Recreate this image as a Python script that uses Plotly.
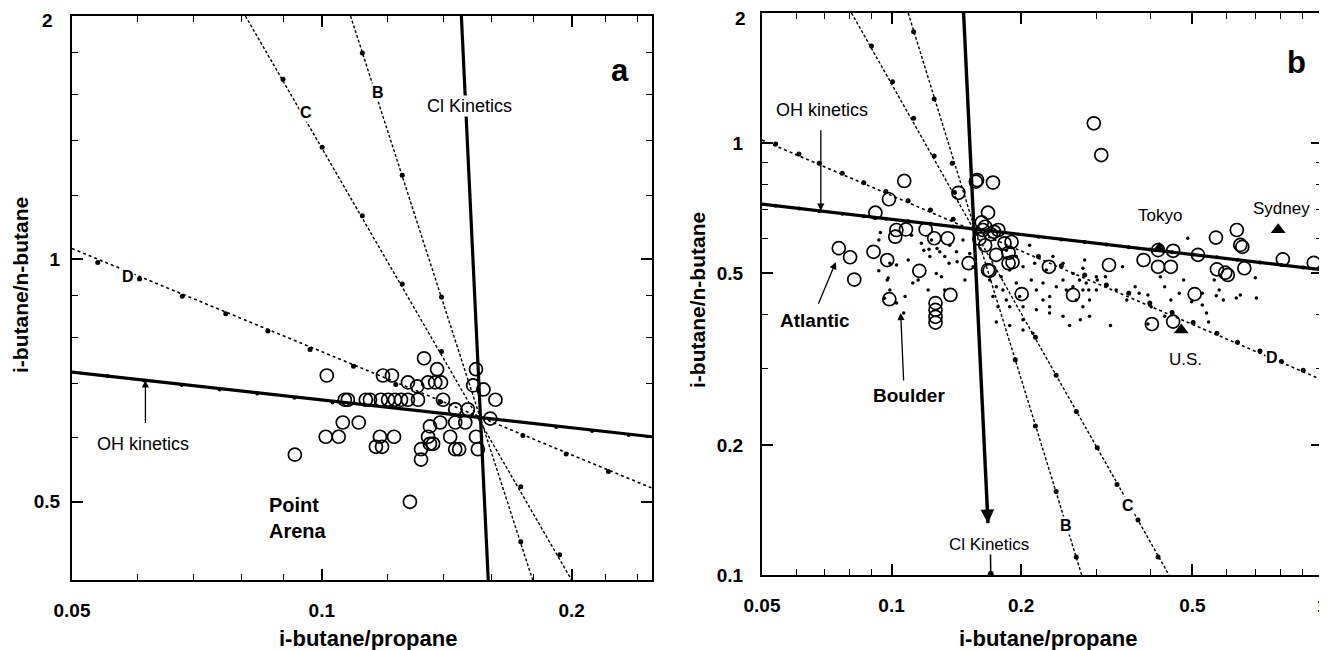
import numpy as np
import plotly.graph_objects as go

# page body has an 8 px margin: the figure is drawn 8 px in from the top-left corner
OFF = 8
W, H = 1327 - OFF, 650 - OFF
L = np.log10

# ---------------- Panel a data ----------------
pa_circ_x = [0.1014, 0.1328, 0.1377, 0.1185, 0.1215, 0.1270, 0.1303, 0.1343, 0.1370, 0.1392, 0.1534, 0.1522, 0.1566, 0.1619,
             0.1066, 0.1075, 0.1130, 0.1143, 0.1178, 0.1202, 0.1225, 0.1246, 0.1270, 0.1306,
             0.1400, 0.1448, 0.1500, 0.1350, 0.1448, 0.1489, 0.1389, 0.1596, 0.1060, 0.1108, 0.1011, 0.1048, 0.1175, 0.1222,
             0.1162, 0.1182, 0.1343, 0.1362, 0.1350, 0.1428, 0.1448, 0.1464, 0.1534, 0.1542, 0.1317, 0.1317, 0.0928, 0.1277]
pa_circ_y = [0.717, 0.753, 0.730, 0.717, 0.717, 0.703, 0.695, 0.703, 0.703, 0.703, 0.730, 0.697, 0.689, 0.669,
             0.669, 0.669, 0.669, 0.669, 0.669, 0.669, 0.669, 0.669, 0.669, 0.669,
             0.669, 0.651, 0.651, 0.620, 0.627, 0.627, 0.627, 0.634, 0.627, 0.627, 0.602, 0.602, 0.602, 0.602,
             0.585, 0.585, 0.602, 0.590, 0.590, 0.602, 0.581, 0.581, 0.602, 0.581, 0.581, 0.564, 0.572, 0.500]

pa_oh_x = [0.05, 0.25]
pa_oh_y = [0.724, 0.602]
pa_oh_dot_x = [0.0552, 0.0611, 0.0678, 0.0753, 0.0836, 0.0927, 0.1030, 0.1917, 0.2117, 0.2344]
pa_oh_dot_y = [0.716, 0.707, 0.698, 0.689, 0.681, 0.673, 0.664, 0.619, 0.612, 0.605]

pa_cl_x = [0.1473, 0.1587]
pa_cl_y = [2.0, 0.4]

pa_b_x = [0.1083, 0.1795]
pa_b_y = [2.0, 0.4]
pa_b_dot_x = [0.1119, 0.1250, 0.1394, 0.1737]
pa_b_dot_y = [1.80, 1.27, 0.897, 0.446]

pa_c_x = [0.0809, 0.2000]
pa_c_y = [2.0, 0.4]
pa_c_dot_x = [0.0898, 0.1001, 0.1119, 0.1250, 0.1394, 0.1737, 0.1935]
pa_c_dot_y = [1.67, 1.375, 1.131, 0.931, 0.768, 0.522, 0.430]

pa_d_x = [0.05, 0.25]
pa_d_y = [1.03, 0.52]
pa_d_dot_x = [0.0537, 0.0603, 0.0679, 0.0766, 0.0861, 0.0968, 0.1092, 0.1228, 0.1390, 0.1747, 0.1970, 0.2215]
pa_d_dot_y = [0.990, 0.944, 0.899, 0.855, 0.814, 0.772, 0.736, 0.699, 0.665, 0.604, 0.573, 0.545]

# ---------------- Panel b data ----------------
pb_circ_x = [0.295, 0.307, 0.107, 0.0986, 0.0917, 0.158, 0.157, 0.172, 0.143, 0.1675,
             0.1026, 0.108, 0.102, 0.120, 0.1256, 0.135, 0.173, 0.183, 0.0754, 0.0801,
             0.0819, 0.0908, 0.0977, 0.116, 0.151, 0.1675, 0.169, 0.175, 0.187, 0.2006,
             0.137, 0.0988, 0.1265, 0.1265, 0.1265, 0.1265, 0.264, 0.232, 0.320, 0.385,
             0.416, 0.451, 0.416, 0.4455, 0.515, 0.567, 0.634, 0.646, 0.653, 0.570,
             0.596, 0.604, 0.660, 0.811, 0.957, 0.506, 0.4025, 0.451,
             0.187, 0.191, 0.177, 0.190, 0.163, 0.165, 0.170, 0.160, 0.165, 0.162]
pb_circ_y = [1.111, 0.938, 0.817, 0.741, 0.690, 0.821, 0.814, 0.810, 0.767, 0.690,
             0.629, 0.631, 0.607, 0.631, 0.602, 0.602, 0.623, 0.586, 0.571, 0.544,
             0.483, 0.560, 0.536, 0.506, 0.527, 0.508, 0.506, 0.551, 0.527, 0.447,
             0.445, 0.435, 0.426, 0.411, 0.396, 0.384, 0.445, 0.517, 0.522, 0.536,
             0.565, 0.563, 0.517, 0.517, 0.551, 0.604, 0.629, 0.581, 0.575, 0.510,
             0.501, 0.495, 0.513, 0.538, 0.528, 0.447, 0.381, 0.386,
             0.557, 0.530, 0.629, 0.590, 0.629, 0.640, 0.615, 0.600, 0.580, 0.655]

pb_dot_x = [0.0942, 0.0991, 0.1027, 0.1093, 0.1113, 0.1173, 0.1188, 0.1222, 0.1238, 0.1227, 0.1275, 0.1294, 0.1329,
            0.1365, 0.1360, 0.1415, 0.1420, 0.1465, 0.1480, 0.1519, 0.1547, 0.1575, 0.1270, 0.1306, 0.1216, 0.1153,
            0.1120, 0.0982, 0.1075, 0.0991, 0.1027, 0.0963, 0.1067, 0.1329,
            0.1690, 0.1751, 0.1814, 0.1848, 0.1720, 0.1767, 0.1881, 0.1949, 0.1984, 0.2020, 0.2020, 0.2112, 0.2170,
            0.2248, 0.2248, 0.2329, 0.2329, 0.2414, 0.2502, 0.2546, 0.2639, 0.2734, 0.2783, 0.2833, 0.2884, 0.2990,
            0.2990, 0.2783, 0.2686, 0.2170, 0.2329, 0.1751, 0.1881, 0.2020, 0.2130, 0.2502, 0.2592, 0.2884, 0.2809,
            0.2641, 0.2288, 0.2150, 0.2020, 0.1881, 0.1798, 0.2093, 0.1848, 0.1949, 0.2371, 0.2502, 0.2783,
            0.314, 0.3325, 0.344, 0.352, 0.368, 0.376, 0.394, 0.401, 0.421, 0.431, 0.4455, 0.466, 0.477, 0.4875,
            0.498, 0.527, 0.527, 0.539, 0.545, 0.577, 0.590, 0.646, 0.394, 0.431, 0.3225, 0.2745, 0.3005, 0.2872,
            0.562, 0.568, 0.632, 0.704, 0.700, 0.0934, 0.0934, 0.0977]
pb_dot_y = [0.621, 0.527, 0.522, 0.536, 0.612, 0.586, 0.565, 0.568, 0.596, 0.546, 0.570, 0.560, 0.546,
            0.580, 0.527, 0.560, 0.531, 0.596, 0.482, 0.555, 0.517, 0.465, 0.499, 0.490, 0.457, 0.482,
            0.474, 0.487, 0.441, 0.457, 0.426, 0.437, 0.404, 0.457,
            0.482, 0.465, 0.457, 0.433, 0.441, 0.418, 0.418, 0.474, 0.441, 0.418, 0.390, 0.482, 0.457,
            0.474, 0.433, 0.441, 0.418, 0.465, 0.482, 0.457, 0.465, 0.482, 0.457, 0.474, 0.433, 0.490,
            0.457, 0.418, 0.433, 0.411, 0.404, 0.385, 0.378, 0.369, 0.363, 0.397, 0.378, 0.397, 0.536,
            0.499, 0.508, 0.527, 0.517, 0.508, 0.490, 0.580, 0.565, 0.546, 0.546, 0.527, 0.513,
            0.490, 0.457, 0.517, 0.433, 0.465, 0.449, 0.445, 0.418, 0.490, 0.465, 0.433, 0.449, 0.482, 0.602,
            0.429, 0.449, 0.422, 0.404, 0.385, 0.457, 0.433, 0.445, 0.381, 0.397, 0.378, 0.390, 0.482, 0.457,
            0.482, 0.443, 0.438, 0.438, 0.488, 0.596, 0.506, 0.482]

pb_tri_x = [0.419, 0.791, 0.471]
pb_tri_y = [0.570, 0.630, 0.369]

pb_oh_x = [0.05, 1.0]
pb_oh_y = [0.722, 0.509]
pb_oh_dot_x = [0.0538, 0.0609, 0.0679, 0.0768, 0.0862, 0.0970, 0.1093, 0.1231, 0.1390, 0.2194, 0.248, 0.281,
               0.3155, 0.3557, 0.398, 0.4485, 0.502, 0.570, 0.636, 0.7175, 0.805, 0.904]
pb_oh_dot_y = [0.716, 0.705, 0.696, 0.686, 0.677, 0.668, 0.659, 0.650, 0.641, 0.607, 0.598, 0.590,
               0.582, 0.574, 0.567, 0.559, 0.552, 0.544, 0.537, 0.529, 0.522, 0.515]

pb_cl_x = [0.147, 0.1675]
pb_cl_y = [2.0, 0.1318]
pb_cl_tick_x = [0.1697, 0.1700]
pb_cl_tick_y = [0.113, 0.1005]

pb_b_x = [0.1093, 0.2765]
pb_b_y = [2.0, 0.1]
pb_b_dot_x = [0.1125, 0.1256, 0.1383, 0.1938, 0.2159, 0.2412, 0.2686]
pb_b_dot_y = [1.810, 1.265, 0.898, 0.315, 0.2213, 0.156, 0.110]

pb_c_x = [0.0807, 0.441]
pb_c_y = [2.0, 0.1]
pb_c_dot_x = [0.0898, 0.1005, 0.1125, 0.1256, 0.1400, 0.2159, 0.2412, 0.2686, 0.3005, 0.334, 0.3737, 0.416]
pb_c_dot_y = [1.677, 1.386, 1.141, 0.933, 0.768, 0.355, 0.290, 0.239, 0.197, 0.162, 0.134, 0.110]

pb_d_x = [0.05, 1.0]
pb_d_y = [1.016, 0.283]
pb_d_dot_x = [0.0538, 0.0609, 0.0679, 0.0768, 0.0862, 0.0970, 0.1093, 0.1231, 0.1390, 0.2194, 0.248, 0.281,
              0.3155, 0.3557, 0.398, 0.4485, 0.502, 0.570, 0.636, 0.7175, 0.805, 0.904]
pb_d_dot_y = [0.995, 0.943, 0.898, 0.851, 0.809, 0.772, 0.735, 0.700, 0.666, 0.546, 0.520, 0.495,
              0.469, 0.449, 0.426, 0.405, 0.384, 0.363, 0.346, 0.330, 0.312, 0.298]

# ticks (the top label "2" is drawn as a text just below the frame edge)
pa_xt = [0.05, 0.1, 0.2]
pa_xt_lab = ["0.05", "0.1", "0.2"]
pa_xminor = [0.06, 0.07, 0.08, 0.09, 0.12, 0.14, 0.16, 0.18, 0.22, 0.24]
pa_yt = [0.5, 1, 2]
pa_yt_lab = ["0.5", "1", ""]
pa_yminor = [0.6, 0.7, 0.8, 0.9, 1.2, 1.4, 1.6, 1.8]
pb_xt = [0.05, 0.1, 0.2, 0.5, 1]
pb_xt_lab = ["0.05", "0.1", "0.2", "0.5", "1"]
pb_xminor = [0.06, 0.07, 0.08, 0.09, 0.3, 0.4, 0.6, 0.7, 0.8, 0.9]
pb_yt = [0.1, 0.2, 0.5, 1, 2]
pb_yt_lab = ["0.1", "0.2", "0.5", "1", ""]
pb_yminor = [0.3, 0.4, 0.6, 0.7, 0.8, 0.9]
top_label = "2"

FONT = "Liberation Sans, Arial, Helvetica, sans-serif"
K = "black"

fig = go.Figure()


def add_line(x, y, xa, ya, width, dash="solid"):
    fig.add_trace(go.Scatter(x=x, y=y, xaxis=xa, yaxis=ya, mode="lines",
                             line=dict(color=K, width=width, dash=dash), hoverinfo="skip", showlegend=False))


def add_dots(x, y, xa, ya, size, symbol="circle", lw=0):
    fig.add_trace(go.Scatter(x=x, y=y, xaxis=xa, yaxis=ya, mode="markers",
                             marker=dict(color=K, size=size, symbol=symbol, line=dict(color=K, width=lw)),
                             hoverinfo="skip", showlegend=False))


def add_circles(x, y, xa, ya):
    fig.add_trace(go.Scatter(x=x, y=y, xaxis=xa, yaxis=ya, mode="markers",
                             marker=dict(symbol="circle-open", size=13, color=K, line=dict(width=1.7, color=K)),
                             hoverinfo="skip", showlegend=False))


# panel a
add_line(pa_d_x, pa_d_y, "x", "y", 1.6, "dot")
add_dots(pa_d_dot_x, pa_d_dot_y, "x", "y", 5)
add_line(pa_c_x, pa_c_y, "x", "y", 1.4, "3px,2px")
add_dots(pa_c_dot_x, pa_c_dot_y, "x", "y", 5)
add_line(pa_b_x, pa_b_y, "x", "y", 1.4, "3px,2px")
add_dots(pa_b_dot_x, pa_b_dot_y, "x", "y", 5)
add_line(pa_oh_x, pa_oh_y, "x", "y", 3.2)
add_dots(pa_oh_dot_x, pa_oh_dot_y, "x", "y", 4)
add_line(pa_cl_x, pa_cl_y, "x", "y", 3.2)
add_circles(pa_circ_x, pa_circ_y, "x", "y")

# panel b
add_dots(pb_dot_x, pb_dot_y, "x2", "y2", 3.5)
add_line(pb_d_x, pb_d_y, "x2", "y2", 1.6, "dot")
add_dots(pb_d_dot_x, pb_d_dot_y, "x2", "y2", 5)
add_line(pb_c_x, pb_c_y, "x2", "y2", 1.4, "3px,2px")
add_dots(pb_c_dot_x, pb_c_dot_y, "x2", "y2", 5)
add_line(pb_b_x, pb_b_y, "x2", "y2", 1.4, "3px,2px")
add_dots(pb_b_dot_x, pb_b_dot_y, "x2", "y2", 5)
add_line(pb_oh_x, pb_oh_y, "x2", "y2", 3.2)
add_dots(pb_oh_dot_x, pb_oh_dot_y, "x2", "y2", 4)
add_line(pb_cl_x, pb_cl_y, "x2", "y2", 3.4)
add_line(pb_cl_tick_x, pb_cl_tick_y, "x2", "y2", 1.5)
add_dots(pb_cl_tick_x[1:], pb_cl_tick_y[1:], "x2", "y2", 6)
add_circles(pb_circ_x, pb_circ_y, "x2", "y2")
add_dots(pb_tri_x, pb_tri_y, "x2", "y2", 13, "triangle-up")


def px(v):
    return (v - OFF) / W


def py(v):
    return 1 - (v - OFF) / H


def axis(dom, rng, tv, tt, minor, anchor, standoff):
    return dict(type="log", domain=dom, range=[L(rng[0]), L(rng[1])], anchor=anchor, automargin=False,
                tickvals=tv, ticktext=[("<b>%s</b>" % t) if t else "" for t in tt], ticks="inside", ticklen=11,
                tickwidth=1.6, tickcolor=K, showline=True, linecolor=K, linewidth=2, mirror="allticks",
                showgrid=False, zeroline=False, tickfont=dict(family=FONT, size=19, color=K),
                ticklabelstandoff=standoff, ticklabeloverflow="allow",
                minor=dict(tickvals=minor, ticks="inside", ticklen=6, tickwidth=1.4, tickcolor=K, showgrid=False))


fig.update_layout(
    width=W, height=H, margin=dict(l=0, r=0, t=0, b=0, autoexpand=False), paper_bgcolor="white",
    plot_bgcolor="white", showlegend=False,
    xaxis=axis([px(72), px(652)], [0.05, 0.25], pa_xt, pa_xt_lab, pa_xminor, "y", 12),
    yaxis=axis([py(580), py(16)], [0.4, 2.0], pa_yt, pa_yt_lab, pa_yminor, "x", 6),
    xaxis2=axis([px(762), min(1.0, px(1322))], [0.05, 1.0], pb_xt, pb_xt_lab, pb_xminor, "y2", 12),
    yaxis2=axis([py(575), py(13)], [0.1, 2.0], pb_yt, pb_yt_lab, pb_yminor, "x2", 13),
)

ann = []


def text(t, x, y, size, bold=False, bg=None, xanchor="center", align="center", angle=0):
    ann.append(dict(text=("<b>%s</b>" % t) if bold else t, x=px(x), y=py(y), xref="paper", yref="paper",
                    showarrow=False, xanchor=xanchor, yanchor="middle", align=align, textangle=angle,
                    font=dict(family=FONT, size=size, color=K), bgcolor=bg, borderpad=0))


def arrow(xv, yv, xa, ya, ax, ay, width=1.3):
    ann.append(dict(text="", x=L(xv), y=L(yv), xref=xa, yref=ya, showarrow=True, ax=ax, ay=ay,
                    arrowhead=2, arrowsize=1.1, arrowwidth=width, arrowcolor=K))


# top tick labels
text(top_label, 47, 20, 19, True)
text(top_label, 740, 19, 19, True)

# panel a labels
text("a", 620, 70, 31, True)
text("C", 306, 112, 16, True, "white")
text("B", 378, 92, 16, True, "white")
text("Cl Kinetics", 469, 106, 18, False, "white")
text("D", 128, 276, 16, True, "white")
text("OH kinetics", 143, 444, 18)
text("Point<br>Arena", 268, 518, 20, True, xanchor="left", align="left")
arrow(0.0613, 0.707, "x", "y", 0, 44)
text("i-butane/propane", 368, 638, 22, True)
text("i-butane/n-butane", 20, 285, 21, True, angle=-90)

# panel b labels
text("b", 1296, 63, 31, True)
text("OH kinetics", 822, 110, 18)
arrow(0.0685, 0.697, "x2", "y2", 0, -82)
text("Tokyo", 1160, 215, 17)
text("Sydney", 1281, 208, 17)
text("U.S.", 1185, 360, 17)
text("Atlantic", 815, 320, 19, True)
arrow(0.0742, 0.530, "x2", "y2", -18, 43)
text("Boulder", 909, 395, 19, True)
arrow(0.1050, 0.404, "x2", "y2", 3, 69)
text("D", 1272, 357, 16, True, "white")
text("C", 1128, 505, 16, True, "white")
text("B", 1066, 525, 16, True, "white")
text("Cl Kinetics", 989, 544, 17, False, "white")
arrow(0.1675, 0.1318, "x2", "y2", -1, -22, 2.5)
text("i-butane/propane", 1048, 638, 22, True)
text("i-butane/n-butane", 697, 300, 21, True, angle=-90)

fig.update_layout(annotations=ann)
fig.write_html("out.html")
